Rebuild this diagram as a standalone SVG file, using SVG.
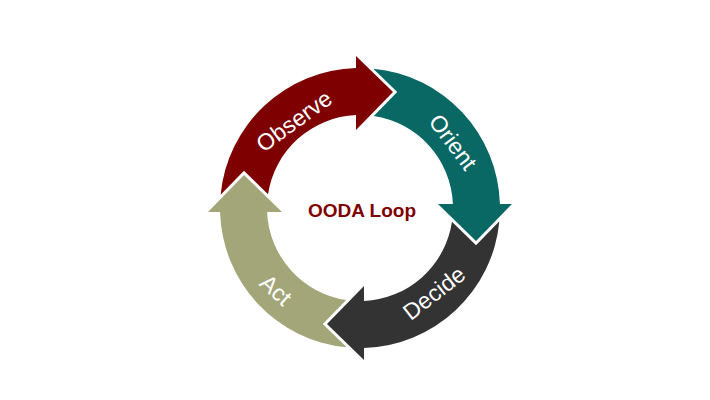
<svg xmlns="http://www.w3.org/2000/svg" xmlns:xlink="http://www.w3.org/1999/xlink" width="710" height="400" viewBox="0 0 710 400">
<style>
.lbl{font-family:"Liberation Sans",Arial,sans-serif;font-size:23px;fill:#ffffff;text-anchor:middle}
.title{font-family:"Liberation Sans",Arial,sans-serif;font-size:19px;font-weight:bold;fill:#7f0000;text-anchor:middle}
</style>
<defs>
<path id="seg" d="M220.63,194.72 A140,140 0 0 1 356,68.06 L356,56 L393,92 L356,130 L356,115.09 A93,93 0 0 0 268.03,194.19 L244,170.8 Z"/>
</defs>
<rect width="710" height="400" fill="#ffffff"/>
<g id="connectors">
<g id="observe"><use xlink:href="#seg" fill="#7f0000"/><text class="lbl" transform="translate(294,121) rotate(-36)" y="8">Observe</text></g>
<g id="orient"><use xlink:href="#seg" fill="#0a6864" transform="rotate(90 360 208)"/><text class="lbl" transform="translate(453,142) rotate(53)" y="8">Orient</text></g>
<g id="decide"><use xlink:href="#seg" fill="#333333" transform="rotate(180 360 208)"/><text class="lbl" transform="translate(434,293) rotate(-38)" y="8">Decide</text></g>
<g id="act"><use xlink:href="#seg" fill="#a3a679" transform="rotate(270 360 208)"/><text class="lbl" transform="translate(276,290) rotate(42)" y="8">Act</text></g>
</g>
<g id="center"><text class="title" x="362" y="217">OODA Loop</text></g>
</svg>
